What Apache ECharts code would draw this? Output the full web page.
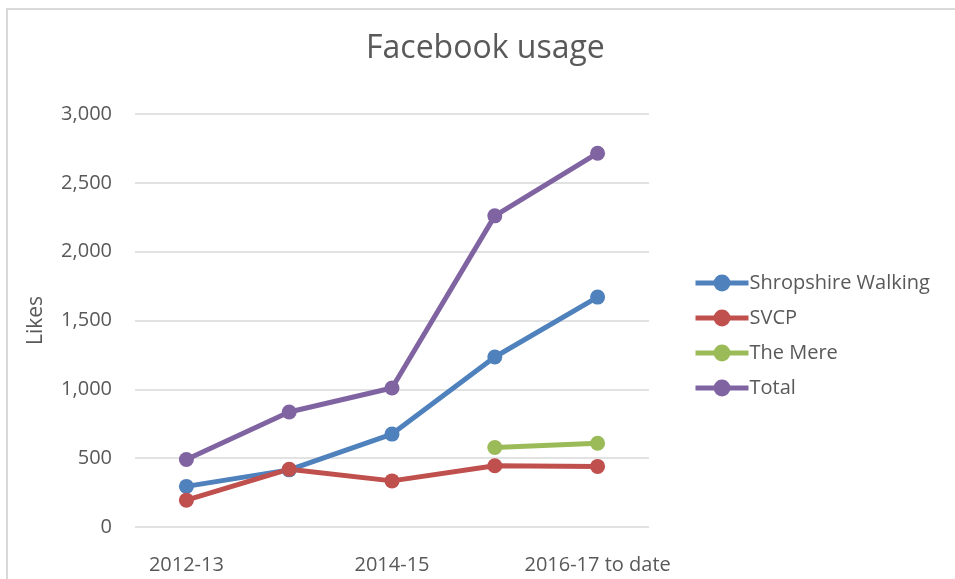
<!DOCTYPE html>
<html>
<head>
<meta charset="utf-8">
<script src="https://cdn.jsdelivr.net/npm/echarts@6/dist/echarts.min.js"></script>
<style>
    html, body { margin: 0; padding: 0; background: #fff; overflow: hidden; }
    #chart { position: absolute; left: 0; top: 0; width: 955px; height: 579px; }
    #frame { position: absolute; left: 6px; top: 8px; width: 1000px; height: 1000px;
             border-left: 2px solid #d9d9d9; border-top: 2px solid #d9d9d9; pointer-events: none; }
</style>
</head>
<body>
<div id="chart"></div>
<div id="frame"></div>
<script>
// 数据
const years = ['2012-13', '2013-14', '2014-15', '2015-16', '2016-17 to date'];
const shropshireWalking = [295, 415, 675, 1235, 1670];
const svcp = [195, 420, 335, 445, 440];
const theMere = [null, null, null, 578, 608];
const total = [490, 835, 1010, 2260, 2715];

const textColor = '#595959';
const fontFamily = '"Open Sans", "Noto Sans", sans-serif';

function makeSeries(name, data, color) {
    return {
        name: name,
        type: 'line',
        data: data,
        symbol: 'circle',
        symbolSize: 15,
        lineStyle: { width: 5, color: color },
        itemStyle: { color: color },
        emphasis: { disabled: true }
    };
}

const chart = echarts.init(document.getElementById('chart'));
const option = {
    backgroundColor: 'transparent',
    animation: false,
    textStyle: { fontFamily: fontFamily },
    title: {
        text: 'Facebook usage',
        left: 361,
        top: 28,
        textStyle: { color: textColor, fontSize: 32, fontWeight: 'normal', fontFamily: fontFamily }
    },
    legend: {
        orient: 'vertical',
        left: 688,
        top: 268,
        itemWidth: 53,
        itemHeight: 21,
        itemGap: 15,
        lineStyle: { width: 5 },
        textStyle: { color: textColor, fontSize: 20, padding: [0, 0, 0, -4] },
        data: ['Shropshire Walking', 'SVCP', 'The Mere', 'Total']
    },
    grid: { left: 135, right: 306, top: 114, bottom: 52 },
    xAxis: {
        type: 'category',
        data: years,
        boundaryGap: true,
        axisLine: { show: false },
        axisTick: { show: false },
        axisLabel: { color: textColor, fontSize: 20, interval: 1, margin: 28 }
    },
    yAxis: {
        type: 'value',
        min: 0,
        max: 3000,
        interval: 500,
        name: 'Likes',
        nameLocation: 'middle',
        nameGap: 88,
        nameTextStyle: { color: textColor, fontSize: 21 },
        axisLine: { show: false },
        axisTick: { show: false },
        axisLabel: {
            color: textColor,
            fontSize: 20,
            margin: 23,
            formatter: v => v.toLocaleString('en-US')
        },
        splitLine: { lineStyle: { color: '#d9d9d9', width: 1.5 } }
    },
    series: [
        makeSeries('Shropshire Walking', shropshireWalking, '#4f81bd'),
        makeSeries('SVCP', svcp, '#c0504d'),
        makeSeries('The Mere', theMere, '#9bbb59'),
        makeSeries('Total', total, '#8064a2')
    ]
};
chart.setOption(option);
</script>
</body>
</html>
